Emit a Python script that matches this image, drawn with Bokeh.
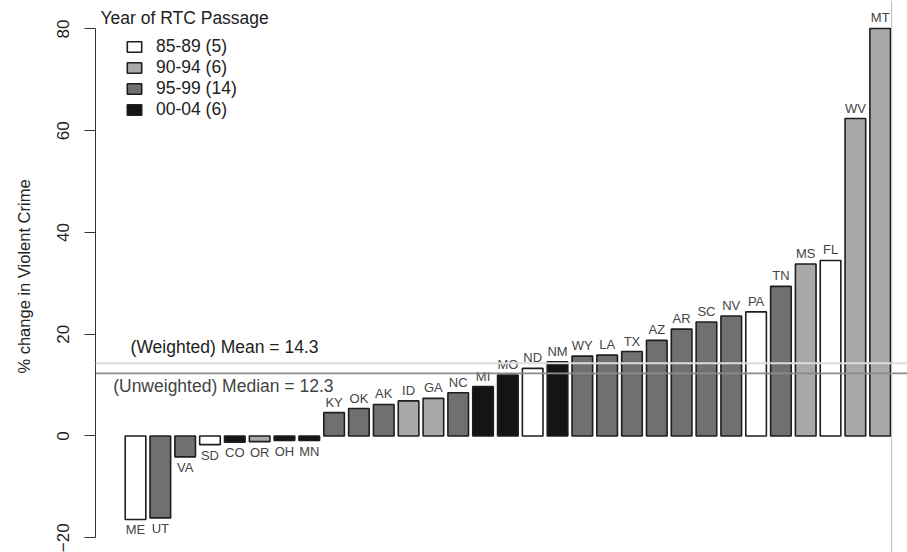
import math
from bokeh.plotting import figure
from bokeh.models import (ColumnDataSource, Range1d, Span, Label, Legend, LegendItem,
                          FixedTicker, CDSView, GroupFilter)
from bokeh.core.properties import value
from bokeh.embed import file_html
from bokeh.resources import INLINE

# ---- data ----
states = ["ME", "UT", "VA", "SD", "CO", "OR", "OH", "MN", "KY", "OK", "AK", "ID", "GA", "NC",
          "MI", "MO", "ND", "NM", "WY", "LA", "TX", "AZ", "AR", "SC", "NV", "PA", "TN", "MS",
          "FL", "WV", "MT"]
pct_change = [-16.4, -16.1, -4.1, -1.7, -1.2, -1.1, -0.9, -0.9, 4.6, 5.4, 6.2, 6.9, 7.4, 8.5,
              9.7, 12.0, 13.3, 14.6, 15.7, 15.9, 16.6, 18.8, 21.0, 22.4, 23.6, 24.4, 29.4, 33.8,
              34.5, 62.4, 80.1]
period = ["85-89", "95-99", "95-99", "85-89", "00-04", "90-94", "00-04", "00-04", "95-99",
          "95-99", "95-99", "90-94", "90-94", "95-99", "00-04", "00-04", "85-89", "00-04",
          "95-99", "95-99", "95-99", "95-99", "95-99", "95-99", "95-99", "85-89", "95-99",
          "90-94", "85-89", "90-94", "90-94"]
periods = ["85-89", "90-94", "95-99", "00-04"]
period_counts = [5, 6, 14, 6]
period_colors = ["#ffffff", "#a9a9a9", "#707070", "#141414"]
weighted_mean = 14.3
unweighted_median = 12.3
y_ticks = [-20, 0, 20, 40, 60, 80]

xs = list(range(len(states)))
label_base = ["bottom" if v >= 0 else "top" for v in pct_change]
label_off = [-3 if v >= 0 else 3 for v in pct_change]
source = ColumnDataSource(dict(x=xs, v=pct_change, state=states, period=period,
                               base=label_base, off=label_off))

FONT = "Liberation Sans"

p = figure(width=907, height=552, output_backend="svg", toolbar_location=None,
           x_range=Range1d(-1.612, 31.10), y_range=Range1d(-22.9, 85.6),
           min_border_left=95, min_border_right=0, min_border_top=0, min_border_bottom=0)
p.outline_line_color = None
p.xgrid.visible = False
p.ygrid.visible = False
p.xaxis.visible = False

yax = p.yaxis[0]
yax.ticker = FixedTicker(ticks=y_ticks)
yax.bounds = (-20, 80)
yax.minor_tick_line_color = None
yax.major_tick_out = 11
yax.major_tick_in = 0
yax.axis_line_color = "#333333"
yax.major_tick_line_color = "#333333"
yax.major_label_orientation = "vertical"
yax.major_label_text_font = FONT
yax.major_label_text_font_size = "17px"
yax.major_label_text_color = "#222222"
yax.major_label_standoff = 15
yax.axis_label = "% change in Violent Crime"
yax.axis_label_text_font = FONT
yax.axis_label_text_font_style = "normal"
yax.axis_label_text_font_size = "16.5px"
yax.axis_label_text_color = "#222222"
yax.axis_label_standoff = 22

items = []
for per, col, cnt in zip(periods, period_colors, period_counts):
    view = CDSView(filter=GroupFilter(column_name="period", group=per))
    r = p.vbar(x="x", top="v", bottom=0, width=0.83, source=source, view=view,
               fill_color=col, line_color="#1e1e1e", line_width=1.6)
    items.append(LegendItem(label=f"{per} ({cnt})", renderers=[r]))

# reference lines
p.add_layout(Span(location=weighted_mean, dimension="width", line_color="#dcdcdc", line_width=2))
p.add_layout(Span(location=unweighted_median, dimension="width", line_color="#8a8a8a", line_width=1.6))
p.add_layout(Span(location=30.46, dimension="height", line_color="#c4c4c4", line_width=1.2))

p.text(x="x", y="v", text="state", source=source, text_align="center",
       text_baseline="base", y_offset="off", text_font=value(FONT),
       text_font_size="13px", text_color="#444444")

p.add_layout(Label(x=-0.2, y=weighted_mean, y_offset=6, text=f"(Weighted) Mean = {weighted_mean}",
                   text_font=FONT, text_font_size="17.5px", text_color="#222222",
                   text_baseline="bottom"))
p.add_layout(Label(x=-0.9, y=unweighted_median, y_offset=-3,
                   text=f"(Unweighted) Median = {unweighted_median}",
                   text_font=FONT, text_font_size="17.5px", text_color="#444444",
                   text_baseline="top"))
p.add_layout(Label(x=-1.41, y=82.2, text="Year of RTC Passage", text_font=FONT,
                   text_font_size="17.5px", text_color="#222222", text_baseline="middle"))

legend = Legend(items=items, location=(30, 432), orientation="vertical",
                label_text_font=FONT, label_text_font_size="17.5px", label_text_color="#222222",
                glyph_width=18, glyph_height=13, label_height=21, label_standoff=13,
                spacing=0, padding=0, margin=0, border_line_color=None,
                background_fill_alpha=0)
p.add_layout(legend, "center")

open("out.html", "w").write(file_html(p, INLINE))
